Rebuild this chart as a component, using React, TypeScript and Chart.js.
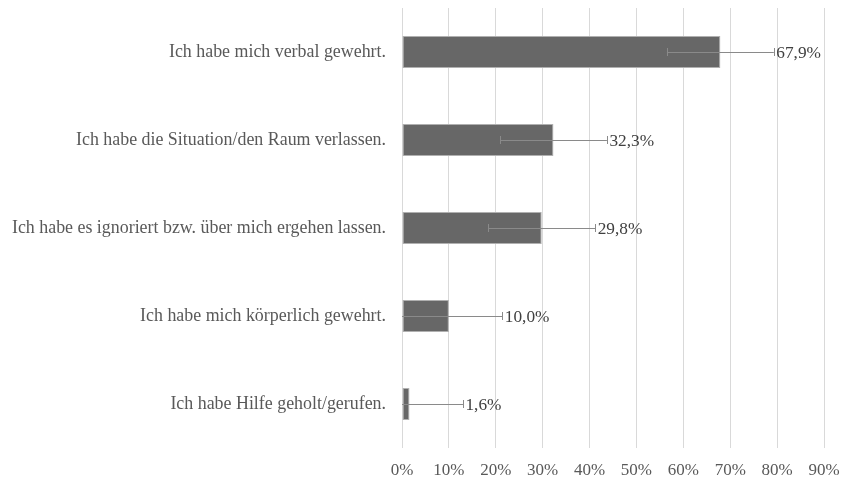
import React, { useEffect, useRef } from "react";
import { Chart, registerables } from "chart.js";

Chart.register(...registerables);

const categories = [
  "Ich habe mich verbal gewehrt.",
  "Ich habe die Situation/den Raum verlassen.",
  "Ich habe es ignoriert bzw. über mich ergehen lassen.",
  "Ich habe mich körperlich gewehrt.",
  "Ich habe Hilfe geholt/gerufen.",
];
const values = [67.9, 32.3, 29.8, 10.0, 1.6];
const errors = [11.4, 11.4, 11.4, 11.4, 11.4];
const valueLabels = ["67,9%", "32,3%", "29,8%", "10,0%", "1,6%"];

const FONT = "'Liberation Serif', 'Times New Roman', serif";

const errorBarPlugin = {
  id: "errorBars",
  afterDatasetsDraw(chart: any) {
    const ctx = chart.ctx;
    const meta = chart.getDatasetMeta(0);
    const xs = chart.scales.x;
    const area = chart.chartArea;
    ctx.save();
    meta.data.forEach((bar: any, i: number) => {
      const y = bar.y;
      const loVal = values[i] - errors[i];
      const hiVal = values[i] + errors[i];
      const lo = Math.max(xs.getPixelForValue(loVal), area.left);
      const hi = xs.getPixelForValue(hiVal);
      ctx.strokeStyle = "#8a8a8a";
      ctx.lineWidth = 1;
      ctx.beginPath();
      ctx.moveTo(lo, Math.round(y) + 0.5);
      ctx.lineTo(hi, Math.round(y) + 0.5);
      ctx.stroke();
      ctx.beginPath();
      ctx.moveTo(Math.round(hi) + 0.5, y - 4);
      ctx.lineTo(Math.round(hi) + 0.5, y + 4);
      if (loVal >= 0) {
        ctx.moveTo(Math.round(lo) + 0.5, y - 4);
        ctx.lineTo(Math.round(lo) + 0.5, y + 4);
      }
      ctx.stroke();
      ctx.fillStyle = "#404040";
      ctx.font = `17.3px ${FONT}`;
      ctx.textAlign = "left";
      ctx.textBaseline = "middle";
      ctx.fillText(valueLabels[i], hi + 2.5, y + 1);
    });
    ctx.restore();
  },
};

export default function App() {
  const ref = useRef<HTMLCanvasElement | null>(null);
  useEffect(() => {
    if (!ref.current) return;
    const chart = new Chart(ref.current, {
      type: "bar",
      data: {
        labels: categories,
        datasets: [
          {
            data: values,
            backgroundColor: "#676767",
            borderColor: "#b0b0b0",
            borderWidth: 1,
            borderSkipped: false,
            categoryPercentage: 1,
            barPercentage: 0.362,
          },
        ],
      },
      plugins: [errorBarPlugin],
      options: {
        indexAxis: "y",
        animation: false,
        responsive: false,
        maintainAspectRatio: false,
        layout: { padding: { top: 8, right: 20, left: 0, bottom: 0 } },
        plugins: {
          legend: { display: false },
          tooltip: { enabled: false },
        },
        scales: {
          x: {
            min: 0,
            max: 90,
            ticks: {
              stepSize: 10,
              callback: (v: any) => v + "%",
              color: "#595959",
              font: { family: FONT, size: 17 },
              padding: 12,
            },
            grid: { color: "#d9d9d9", drawTicks: false, lineWidth: 1 },
            border: { display: false },
            afterFit: (s: any) => {
              s.height = 31;
              s.paddingLeft = 0;
              s.paddingRight = 0;
            },
          },
          y: {
            ticks: {
              color: "#595959",
              font: { family: FONT, size: 17.9 },
              padding: 16,
            },
            grid: { display: false, drawTicks: false },
            border: { display: false },
            afterFit: (s: any) => {
              s.width = 402;
              s.paddingTop = 0;
              s.paddingBottom = 0;
            },
          },
        },
      },
    });
    return () => chart.destroy();
  }, []);
  return (
    <div style={{ position: "fixed", left: 0, top: 0, width: 844, height: 479, background: "#fff" }}>
      <canvas ref={ref} width={844} height={479} style={{ display: "block" }} />
    </div>
  );
}
